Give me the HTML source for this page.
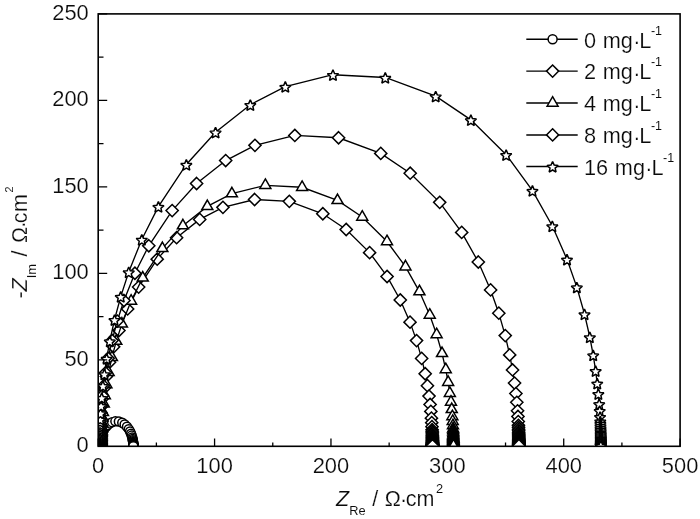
<!DOCTYPE html>
<html><head><meta charset="utf-8"><title>Nyquist plot</title>
<style>
html,body{margin:0;padding:0;background:#fff;}
svg{display:block;}
text{font-family:"Liberation Sans",sans-serif;fill:#0a0a0a;stroke:#fff;stroke-width:0.18px;}
.s{stroke-width:0.05px;}
</style></head><body>
<svg width="700" height="519" viewBox="0 0 700 519">
<rect width="700" height="519" fill="#fff"/>
<defs><clipPath id="cp"><rect x="98.20" y="13.90" width="581.90" height="432.40"/></clipPath></defs>

<g clip-path="url(#cp)" stroke="#000" stroke-linejoin="miter">
<polyline fill="none" stroke-width="1.35" points="99.71,446.30 99.71,446.29 99.71,446.29 99.71,446.29 99.71,446.29 99.71,446.29 99.71,446.29 99.71,446.29 99.71,446.29 99.71,446.29 99.71,446.29 99.71,446.29 99.71,446.29 99.71,446.28 99.71,446.28 99.71,446.28 99.71,446.28 99.71,446.28 99.71,446.27 99.71,446.27 99.71,446.27 99.71,446.26 99.71,446.26 99.71,446.26 99.71,446.25 99.71,446.25 99.71,446.24 99.71,446.23 99.71,446.23 99.71,446.22 99.71,446.21 99.71,446.20 99.71,446.20 99.71,446.19 99.71,446.17 99.71,446.16 99.71,446.15 99.71,446.14 99.71,446.12 99.71,446.10 99.71,446.08 99.71,446.05 99.71,446.03 99.71,446.00 99.71,445.97 99.71,445.93 99.72,445.89 99.72,445.85 99.72,445.81 99.72,445.76 99.72,445.70 99.72,445.64 99.72,445.58 99.72,445.51 99.72,445.43 99.73,445.35 99.73,445.26 99.73,445.16 99.73,445.04 99.74,444.94 99.74,444.82 99.75,444.66 99.76,444.49 99.78,444.08 99.81,443.59 99.86,443.05 99.94,442.24 100.03,441.45 100.19,440.41 100.40,439.24 100.71,437.81 101.13,436.25 101.67,434.61 102.54,432.42 103.66,430.21 105.53,427.39 107.49,425.22 109.83,423.38 112.17,422.16 115.37,421.37 118.88,421.55 122.26,422.81 124.63,424.40 126.99,426.73 128.76,429.14 130.09,431.52 131.08,433.76 131.73,435.62 132.25,437.42 132.61,438.97 132.83,440.18 133.00,441.23 133.10,442.07 133.18,442.77 133.24,443.45 133.27,443.91 133.29,444.31 133.31,444.62 133.32,444.78 133.32,444.92 133.33,445.06 133.33,445.18 133.33,445.29 133.34,445.38 133.34,445.46 133.34,445.54 133.34,445.62 133.34,445.69 133.34,445.74 133.34,445.79 133.34,445.84 133.34,445.88 133.34,445.92 133.35,445.95 133.35,445.99 133.35,446.01 133.35,446.04 133.35,446.06 133.35,446.08 133.35,446.10 133.35,446.12 133.35,446.13 133.35,446.15 133.35,446.16 133.35,446.18 133.35,446.19 133.35,446.20 133.35,446.21 133.35,446.22 133.35,446.22 133.35,446.23 133.35,446.24 133.35,446.24 133.35,446.25"/>
<g fill="#fff" stroke-width="1.5">
<circle cx="99.71" cy="446.30" r="4.5"/>
<circle cx="99.71" cy="446.29" r="4.5"/>
<circle cx="99.71" cy="446.29" r="4.5"/>
<circle cx="99.71" cy="446.29" r="4.5"/>
<circle cx="99.71" cy="446.29" r="4.5"/>
<circle cx="99.71" cy="446.29" r="4.5"/>
<circle cx="99.71" cy="446.29" r="4.5"/>
<circle cx="99.71" cy="446.29" r="4.5"/>
<circle cx="99.71" cy="446.29" r="4.5"/>
<circle cx="99.71" cy="446.29" r="4.5"/>
<circle cx="99.71" cy="446.29" r="4.5"/>
<circle cx="99.71" cy="446.29" r="4.5"/>
<circle cx="99.71" cy="446.29" r="4.5"/>
<circle cx="99.71" cy="446.28" r="4.5"/>
<circle cx="99.71" cy="446.28" r="4.5"/>
<circle cx="99.71" cy="446.28" r="4.5"/>
<circle cx="99.71" cy="446.28" r="4.5"/>
<circle cx="99.71" cy="446.28" r="4.5"/>
<circle cx="99.71" cy="446.27" r="4.5"/>
<circle cx="99.71" cy="446.27" r="4.5"/>
<circle cx="99.71" cy="446.27" r="4.5"/>
<circle cx="99.71" cy="446.26" r="4.5"/>
<circle cx="99.71" cy="446.26" r="4.5"/>
<circle cx="99.71" cy="446.26" r="4.5"/>
<circle cx="99.71" cy="446.25" r="4.5"/>
<circle cx="99.71" cy="446.25" r="4.5"/>
<circle cx="99.71" cy="446.24" r="4.5"/>
<circle cx="99.71" cy="446.23" r="4.5"/>
<circle cx="99.71" cy="446.23" r="4.5"/>
<circle cx="99.71" cy="446.22" r="4.5"/>
<circle cx="99.71" cy="446.21" r="4.5"/>
<circle cx="99.71" cy="446.20" r="4.5"/>
<circle cx="99.71" cy="446.20" r="4.5"/>
<circle cx="99.71" cy="446.19" r="4.5"/>
<circle cx="99.71" cy="446.17" r="4.5"/>
<circle cx="99.71" cy="446.16" r="4.5"/>
<circle cx="99.71" cy="446.15" r="4.5"/>
<circle cx="99.71" cy="446.14" r="4.5"/>
<circle cx="99.71" cy="446.12" r="4.5"/>
<circle cx="99.71" cy="446.10" r="4.5"/>
<circle cx="99.71" cy="446.08" r="4.5"/>
<circle cx="99.71" cy="446.05" r="4.5"/>
<circle cx="99.71" cy="446.03" r="4.5"/>
<circle cx="99.71" cy="446.00" r="4.5"/>
<circle cx="99.71" cy="445.97" r="4.5"/>
<circle cx="99.71" cy="445.93" r="4.5"/>
<circle cx="99.72" cy="445.89" r="4.5"/>
<circle cx="99.72" cy="445.85" r="4.5"/>
<circle cx="99.72" cy="445.81" r="4.5"/>
<circle cx="99.72" cy="445.76" r="4.5"/>
<circle cx="99.72" cy="445.70" r="4.5"/>
<circle cx="99.72" cy="445.64" r="4.5"/>
<circle cx="99.72" cy="445.58" r="4.5"/>
<circle cx="99.72" cy="445.51" r="4.5"/>
<circle cx="99.72" cy="445.43" r="4.5"/>
<circle cx="99.73" cy="445.35" r="4.5"/>
<circle cx="99.73" cy="445.26" r="4.5"/>
<circle cx="99.73" cy="445.16" r="4.5"/>
<circle cx="99.73" cy="445.04" r="4.5"/>
<circle cx="99.74" cy="444.94" r="4.5"/>
<circle cx="99.74" cy="444.82" r="4.5"/>
<circle cx="99.75" cy="444.66" r="4.5"/>
<circle cx="99.76" cy="444.49" r="4.5"/>
<circle cx="99.78" cy="444.08" r="4.5"/>
<circle cx="99.81" cy="443.59" r="4.5"/>
<circle cx="99.86" cy="443.05" r="4.5"/>
<circle cx="99.94" cy="442.24" r="4.5"/>
<circle cx="100.03" cy="441.45" r="4.5"/>
<circle cx="100.19" cy="440.41" r="4.5"/>
<circle cx="100.40" cy="439.24" r="4.5"/>
<circle cx="100.71" cy="437.81" r="4.5"/>
<circle cx="101.13" cy="436.25" r="4.5"/>
<circle cx="101.67" cy="434.61" r="4.5"/>
<circle cx="102.54" cy="432.42" r="4.5"/>
<circle cx="103.66" cy="430.21" r="4.5"/>
<circle cx="105.53" cy="427.39" r="4.5"/>
<circle cx="107.49" cy="425.22" r="4.5"/>
<circle cx="109.83" cy="423.38" r="4.5"/>
<circle cx="112.17" cy="422.16" r="4.5"/>
<circle cx="115.37" cy="421.37" r="4.5"/>
<circle cx="118.88" cy="421.55" r="4.5"/>
<circle cx="122.26" cy="422.81" r="4.5"/>
<circle cx="124.63" cy="424.40" r="4.5"/>
<circle cx="126.99" cy="426.73" r="4.5"/>
<circle cx="128.76" cy="429.14" r="4.5"/>
<circle cx="130.09" cy="431.52" r="4.5"/>
<circle cx="131.08" cy="433.76" r="4.5"/>
<circle cx="131.73" cy="435.62" r="4.5"/>
<circle cx="132.25" cy="437.42" r="4.5"/>
<circle cx="132.61" cy="438.97" r="4.5"/>
<circle cx="132.83" cy="440.18" r="4.5"/>
<circle cx="133.00" cy="441.23" r="4.5"/>
<circle cx="133.10" cy="442.07" r="4.5"/>
<circle cx="133.18" cy="442.77" r="4.5"/>
<circle cx="133.24" cy="443.45" r="4.5"/>
<circle cx="133.27" cy="443.91" r="4.5"/>
<circle cx="133.29" cy="444.31" r="4.5"/>
<circle cx="133.31" cy="444.62" r="4.5"/>
<circle cx="133.32" cy="444.78" r="4.5"/>
<circle cx="133.32" cy="444.92" r="4.5"/>
<circle cx="133.33" cy="445.06" r="4.5"/>
<circle cx="133.33" cy="445.18" r="4.5"/>
<circle cx="133.33" cy="445.29" r="4.5"/>
<circle cx="133.34" cy="445.38" r="4.5"/>
<circle cx="133.34" cy="445.46" r="4.5"/>
<circle cx="133.34" cy="445.54" r="4.5"/>
<circle cx="133.34" cy="445.62" r="4.5"/>
<circle cx="133.34" cy="445.69" r="4.5"/>
<circle cx="133.34" cy="445.74" r="4.5"/>
<circle cx="133.34" cy="445.79" r="4.5"/>
<circle cx="133.34" cy="445.84" r="4.5"/>
<circle cx="133.34" cy="445.88" r="4.5"/>
<circle cx="133.34" cy="445.92" r="4.5"/>
<circle cx="133.35" cy="445.95" r="4.5"/>
<circle cx="133.35" cy="445.99" r="4.5"/>
<circle cx="133.35" cy="446.01" r="4.5"/>
<circle cx="133.35" cy="446.04" r="4.5"/>
<circle cx="133.35" cy="446.06" r="4.5"/>
<circle cx="133.35" cy="446.08" r="4.5"/>
<circle cx="133.35" cy="446.10" r="4.5"/>
<circle cx="133.35" cy="446.12" r="4.5"/>
<circle cx="133.35" cy="446.13" r="4.5"/>
<circle cx="133.35" cy="446.15" r="4.5"/>
<circle cx="133.35" cy="446.16" r="4.5"/>
<circle cx="133.35" cy="446.18" r="4.5"/>
<circle cx="133.35" cy="446.19" r="4.5"/>
<circle cx="133.35" cy="446.20" r="4.5"/>
<circle cx="133.35" cy="446.21" r="4.5"/>
<circle cx="133.35" cy="446.22" r="4.5"/>
<circle cx="133.35" cy="446.22" r="4.5"/>
<circle cx="133.35" cy="446.23" r="4.5"/>
<circle cx="133.35" cy="446.24" r="4.5"/>
<circle cx="133.35" cy="446.24" r="4.5"/>
<circle cx="133.35" cy="446.25" r="4.5"/>
</g>
<polyline fill="none" stroke-width="1.35" points="99.60,446.25 99.60,446.25 99.60,446.24 99.60,446.24 99.60,446.23 99.60,446.22 99.60,446.21 99.60,446.21 99.60,446.20 99.60,446.19 99.60,446.18 99.60,446.16 99.60,446.15 99.60,446.14 99.60,446.12 99.60,446.10 99.60,446.08 99.60,446.06 99.60,446.03 99.60,446.00 99.60,445.98 99.60,445.94 99.60,445.90 99.60,445.86 99.60,445.81 99.60,445.76 99.60,445.71 99.60,445.65 99.60,445.59 99.60,445.51 99.60,445.43 99.60,445.35 99.60,445.27 99.60,445.17 99.60,445.06 99.60,444.95 99.60,444.83 99.60,444.68 99.60,444.50 99.60,444.31 99.60,444.10 99.60,443.86 99.61,443.61 99.61,443.35 99.61,443.07 99.61,442.68 99.62,442.26 99.62,441.87 99.63,441.45 99.64,440.94 99.64,440.39 99.65,439.81 99.67,439.17 99.68,438.44 99.70,437.64 99.72,436.85 99.74,435.98 99.77,434.98 99.81,433.87 99.84,432.79 99.89,431.61 99.96,430.07 100.03,428.36 100.26,424.30 100.58,419.43 101.01,414.10 101.80,406.15 102.77,398.26 104.29,387.98 106.38,376.42 109.50,362.26 113.63,346.87 118.94,330.55 127.63,308.92 138.65,287.09 157.21,259.14 176.60,237.68 199.70,219.43 222.94,207.37 254.59,199.51 289.32,201.35 322.81,213.75 346.19,229.49 369.61,252.64 387.08,276.47 400.27,300.00 410.02,322.15 416.54,340.60 421.65,358.43 425.18,373.72 427.43,385.69 429.04,396.12 430.10,404.45 430.84,411.40 431.42,418.13 431.74,422.64 431.98,426.65 432.12,429.67 432.19,431.25 432.25,432.68 432.30,434.01 432.33,435.20 432.36,436.26 432.39,437.22 432.41,438.01 432.42,438.73 432.44,439.53 432.45,440.25 432.46,440.77 432.47,441.25 432.47,441.73 432.48,442.16 432.48,442.53 432.49,442.87 432.49,443.19 432.49,443.47 432.49,443.71 432.49,443.93 432.50,444.14 432.50,444.33 432.50,444.49 432.50,444.63 432.50,444.79 432.50,444.94 432.50,445.07 432.50,445.19 432.50,445.30 432.50,445.39 432.50,445.47 432.50,445.54 432.50,445.62 432.50,445.69 432.50,445.75 432.50,445.80"/>
<g fill="#fff" stroke-width="1.5">
<path d="M99.60 440.15L105.70 446.25L99.60 452.35L93.50 446.25Z"/>
<path d="M99.60 440.15L105.70 446.25L99.60 452.35L93.50 446.25Z"/>
<path d="M99.60 440.14L105.70 446.24L99.60 452.34L93.50 446.24Z"/>
<path d="M99.60 440.14L105.70 446.24L99.60 452.34L93.50 446.24Z"/>
<path d="M99.60 440.13L105.70 446.23L99.60 452.33L93.50 446.23Z"/>
<path d="M99.60 440.12L105.70 446.22L99.60 452.32L93.50 446.22Z"/>
<path d="M99.60 440.11L105.70 446.21L99.60 452.31L93.50 446.21Z"/>
<path d="M99.60 440.11L105.70 446.21L99.60 452.31L93.50 446.21Z"/>
<path d="M99.60 440.10L105.70 446.20L99.60 452.30L93.50 446.20Z"/>
<path d="M99.60 440.09L105.70 446.19L99.60 452.29L93.50 446.19Z"/>
<path d="M99.60 440.08L105.70 446.18L99.60 452.28L93.50 446.18Z"/>
<path d="M99.60 440.06L105.70 446.16L99.60 452.26L93.50 446.16Z"/>
<path d="M99.60 440.05L105.70 446.15L99.60 452.25L93.50 446.15Z"/>
<path d="M99.60 440.04L105.70 446.14L99.60 452.24L93.50 446.14Z"/>
<path d="M99.60 440.02L105.70 446.12L99.60 452.22L93.50 446.12Z"/>
<path d="M99.60 440.00L105.70 446.10L99.60 452.20L93.50 446.10Z"/>
<path d="M99.60 439.98L105.70 446.08L99.60 452.18L93.50 446.08Z"/>
<path d="M99.60 439.96L105.70 446.06L99.60 452.16L93.50 446.06Z"/>
<path d="M99.60 439.93L105.70 446.03L99.60 452.13L93.50 446.03Z"/>
<path d="M99.60 439.90L105.70 446.00L99.60 452.10L93.50 446.00Z"/>
<path d="M99.60 439.88L105.70 445.98L99.60 452.08L93.50 445.98Z"/>
<path d="M99.60 439.84L105.70 445.94L99.60 452.04L93.50 445.94Z"/>
<path d="M99.60 439.80L105.70 445.90L99.60 452.00L93.50 445.90Z"/>
<path d="M99.60 439.76L105.70 445.86L99.60 451.96L93.50 445.86Z"/>
<path d="M99.60 439.71L105.70 445.81L99.60 451.91L93.50 445.81Z"/>
<path d="M99.60 439.66L105.70 445.76L99.60 451.86L93.50 445.76Z"/>
<path d="M99.60 439.61L105.70 445.71L99.60 451.81L93.50 445.71Z"/>
<path d="M99.60 439.55L105.70 445.65L99.60 451.75L93.50 445.65Z"/>
<path d="M99.60 439.49L105.70 445.59L99.60 451.69L93.50 445.59Z"/>
<path d="M99.60 439.41L105.70 445.51L99.60 451.61L93.50 445.51Z"/>
<path d="M99.60 439.33L105.70 445.43L99.60 451.53L93.50 445.43Z"/>
<path d="M99.60 439.25L105.70 445.35L99.60 451.45L93.50 445.35Z"/>
<path d="M99.60 439.17L105.70 445.27L99.60 451.37L93.50 445.27Z"/>
<path d="M99.60 439.07L105.70 445.17L99.60 451.27L93.50 445.17Z"/>
<path d="M99.60 438.96L105.70 445.06L99.60 451.16L93.50 445.06Z"/>
<path d="M99.60 438.85L105.70 444.95L99.60 451.05L93.50 444.95Z"/>
<path d="M99.60 438.73L105.70 444.83L99.60 450.93L93.50 444.83Z"/>
<path d="M99.60 438.58L105.70 444.68L99.60 450.78L93.50 444.68Z"/>
<path d="M99.60 438.40L105.70 444.50L99.60 450.60L93.50 444.50Z"/>
<path d="M99.60 438.21L105.70 444.31L99.60 450.41L93.50 444.31Z"/>
<path d="M99.60 438.00L105.70 444.10L99.60 450.20L93.50 444.10Z"/>
<path d="M99.60 437.76L105.70 443.86L99.60 449.96L93.50 443.86Z"/>
<path d="M99.61 437.51L105.71 443.61L99.61 449.71L93.51 443.61Z"/>
<path d="M99.61 437.25L105.71 443.35L99.61 449.45L93.51 443.35Z"/>
<path d="M99.61 436.97L105.71 443.07L99.61 449.17L93.51 443.07Z"/>
<path d="M99.61 436.58L105.71 442.68L99.61 448.78L93.51 442.68Z"/>
<path d="M99.62 436.16L105.72 442.26L99.62 448.36L93.52 442.26Z"/>
<path d="M99.62 435.77L105.72 441.87L99.62 447.97L93.52 441.87Z"/>
<path d="M99.63 435.35L105.73 441.45L99.63 447.55L93.53 441.45Z"/>
<path d="M99.64 434.84L105.74 440.94L99.64 447.04L93.54 440.94Z"/>
<path d="M99.64 434.29L105.74 440.39L99.64 446.49L93.54 440.39Z"/>
<path d="M99.65 433.71L105.75 439.81L99.65 445.91L93.55 439.81Z"/>
<path d="M99.67 433.07L105.77 439.17L99.67 445.27L93.57 439.17Z"/>
<path d="M99.68 432.34L105.78 438.44L99.68 444.54L93.58 438.44Z"/>
<path d="M99.70 431.54L105.80 437.64L99.70 443.74L93.60 437.64Z"/>
<path d="M99.72 430.75L105.82 436.85L99.72 442.95L93.62 436.85Z"/>
<path d="M99.74 429.88L105.84 435.98L99.74 442.08L93.64 435.98Z"/>
<path d="M99.77 428.88L105.87 434.98L99.77 441.08L93.67 434.98Z"/>
<path d="M99.81 427.77L105.91 433.87L99.81 439.97L93.71 433.87Z"/>
<path d="M99.84 426.69L105.94 432.79L99.84 438.89L93.74 432.79Z"/>
<path d="M99.89 425.51L105.99 431.61L99.89 437.71L93.79 431.61Z"/>
<path d="M99.96 423.97L106.06 430.07L99.96 436.17L93.86 430.07Z"/>
<path d="M100.03 422.26L106.13 428.36L100.03 434.46L93.93 428.36Z"/>
<path d="M100.26 418.20L106.36 424.30L100.26 430.40L94.16 424.30Z"/>
<path d="M100.58 413.33L106.68 419.43L100.58 425.53L94.48 419.43Z"/>
<path d="M101.01 408.00L107.11 414.10L101.01 420.20L94.91 414.10Z"/>
<path d="M101.80 400.05L107.90 406.15L101.80 412.25L95.70 406.15Z"/>
<path d="M102.77 392.16L108.87 398.26L102.77 404.36L96.67 398.26Z"/>
<path d="M104.29 381.88L110.39 387.98L104.29 394.08L98.19 387.98Z"/>
<path d="M106.38 370.32L112.48 376.42L106.38 382.52L100.28 376.42Z"/>
<path d="M109.50 356.16L115.60 362.26L109.50 368.36L103.40 362.26Z"/>
<path d="M113.63 340.77L119.73 346.87L113.63 352.97L107.53 346.87Z"/>
<path d="M118.94 324.45L125.04 330.55L118.94 336.65L112.84 330.55Z"/>
<path d="M127.63 302.82L133.73 308.92L127.63 315.02L121.53 308.92Z"/>
<path d="M138.65 280.99L144.75 287.09L138.65 293.19L132.55 287.09Z"/>
<path d="M157.21 253.04L163.31 259.14L157.21 265.24L151.11 259.14Z"/>
<path d="M176.60 231.58L182.70 237.68L176.60 243.78L170.50 237.68Z"/>
<path d="M199.70 213.33L205.80 219.43L199.70 225.53L193.60 219.43Z"/>
<path d="M222.94 201.27L229.04 207.37L222.94 213.47L216.84 207.37Z"/>
<path d="M254.59 193.41L260.69 199.51L254.59 205.61L248.49 199.51Z"/>
<path d="M289.32 195.25L295.42 201.35L289.32 207.45L283.22 201.35Z"/>
<path d="M322.81 207.65L328.91 213.75L322.81 219.85L316.71 213.75Z"/>
<path d="M346.19 223.39L352.29 229.49L346.19 235.59L340.09 229.49Z"/>
<path d="M369.61 246.54L375.71 252.64L369.61 258.74L363.51 252.64Z"/>
<path d="M387.08 270.37L393.18 276.47L387.08 282.57L380.98 276.47Z"/>
<path d="M400.27 293.90L406.37 300.00L400.27 306.10L394.17 300.00Z"/>
<path d="M410.02 316.05L416.12 322.15L410.02 328.25L403.92 322.15Z"/>
<path d="M416.54 334.50L422.64 340.60L416.54 346.70L410.44 340.60Z"/>
<path d="M421.65 352.33L427.75 358.43L421.65 364.53L415.55 358.43Z"/>
<path d="M425.18 367.62L431.28 373.72L425.18 379.82L419.08 373.72Z"/>
<path d="M427.43 379.59L433.53 385.69L427.43 391.79L421.33 385.69Z"/>
<path d="M429.04 390.02L435.14 396.12L429.04 402.22L422.94 396.12Z"/>
<path d="M430.10 398.35L436.20 404.45L430.10 410.55L424.00 404.45Z"/>
<path d="M430.84 405.30L436.94 411.40L430.84 417.50L424.74 411.40Z"/>
<path d="M431.42 412.03L437.52 418.13L431.42 424.23L425.32 418.13Z"/>
<path d="M431.74 416.54L437.84 422.64L431.74 428.74L425.64 422.64Z"/>
<path d="M431.98 420.55L438.08 426.65L431.98 432.75L425.88 426.65Z"/>
<path d="M432.12 423.57L438.22 429.67L432.12 435.77L426.02 429.67Z"/>
<path d="M432.19 425.15L438.29 431.25L432.19 437.35L426.09 431.25Z"/>
<path d="M432.25 426.58L438.35 432.68L432.25 438.78L426.15 432.68Z"/>
<path d="M432.30 427.91L438.40 434.01L432.30 440.11L426.20 434.01Z"/>
<path d="M432.33 429.10L438.43 435.20L432.33 441.30L426.23 435.20Z"/>
<path d="M432.36 430.16L438.46 436.26L432.36 442.36L426.26 436.26Z"/>
<path d="M432.39 431.12L438.49 437.22L432.39 443.32L426.29 437.22Z"/>
<path d="M432.41 431.91L438.51 438.01L432.41 444.11L426.31 438.01Z"/>
<path d="M432.42 432.63L438.52 438.73L432.42 444.83L426.32 438.73Z"/>
<path d="M432.44 433.43L438.54 439.53L432.44 445.63L426.34 439.53Z"/>
<path d="M432.45 434.15L438.55 440.25L432.45 446.35L426.35 440.25Z"/>
<path d="M432.46 434.67L438.56 440.77L432.46 446.87L426.36 440.77Z"/>
<path d="M432.47 435.15L438.57 441.25L432.47 447.35L426.37 441.25Z"/>
<path d="M432.47 435.63L438.57 441.73L432.47 447.83L426.37 441.73Z"/>
<path d="M432.48 436.06L438.58 442.16L432.48 448.26L426.38 442.16Z"/>
<path d="M432.48 436.43L438.58 442.53L432.48 448.63L426.38 442.53Z"/>
<path d="M432.49 436.77L438.59 442.87L432.49 448.97L426.39 442.87Z"/>
<path d="M432.49 437.09L438.59 443.19L432.49 449.29L426.39 443.19Z"/>
<path d="M432.49 437.37L438.59 443.47L432.49 449.57L426.39 443.47Z"/>
<path d="M432.49 437.61L438.59 443.71L432.49 449.81L426.39 443.71Z"/>
<path d="M432.49 437.83L438.59 443.93L432.49 450.03L426.39 443.93Z"/>
<path d="M432.50 438.04L438.60 444.14L432.50 450.24L426.40 444.14Z"/>
<path d="M432.50 438.23L438.60 444.33L432.50 450.43L426.40 444.33Z"/>
<path d="M432.50 438.39L438.60 444.49L432.50 450.59L426.40 444.49Z"/>
<path d="M432.50 438.53L438.60 444.63L432.50 450.73L426.40 444.63Z"/>
<path d="M432.50 438.69L438.60 444.79L432.50 450.89L426.40 444.79Z"/>
<path d="M432.50 438.84L438.60 444.94L432.50 451.04L426.40 444.94Z"/>
<path d="M432.50 438.97L438.60 445.07L432.50 451.17L426.40 445.07Z"/>
<path d="M432.50 439.09L438.60 445.19L432.50 451.29L426.40 445.19Z"/>
<path d="M432.50 439.20L438.60 445.30L432.50 451.40L426.40 445.30Z"/>
<path d="M432.50 439.29L438.60 445.39L432.50 451.49L426.40 445.39Z"/>
<path d="M432.50 439.37L438.60 445.47L432.50 451.57L426.40 445.47Z"/>
<path d="M432.50 439.44L438.60 445.54L432.50 451.64L426.40 445.54Z"/>
<path d="M432.50 439.52L438.60 445.62L432.50 451.72L426.40 445.62Z"/>
<path d="M432.50 439.59L438.60 445.69L432.50 451.79L426.40 445.69Z"/>
<path d="M432.50 439.65L438.60 445.75L432.50 451.85L426.40 445.75Z"/>
<path d="M432.50 439.70L438.60 445.80L432.50 451.90L426.40 445.80Z"/>
</g>
<polyline fill="none" stroke-width="1.35" points="101.46,446.25 101.46,446.24 101.46,446.24 101.46,446.23 101.46,446.22 101.46,446.22 101.46,446.21 101.46,446.20 101.46,446.19 101.46,446.18 101.46,446.17 101.46,446.16 101.46,446.14 101.46,446.13 101.46,446.11 101.46,446.09 101.46,446.07 101.46,446.04 101.46,446.02 101.46,445.99 101.46,445.96 101.46,445.92 101.46,445.87 101.46,445.83 101.46,445.79 101.46,445.73 101.46,445.67 101.46,445.61 101.46,445.55 101.46,445.47 101.46,445.38 101.46,445.30 101.46,445.21 101.46,445.10 101.46,444.98 101.46,444.87 101.46,444.75 101.46,444.58 101.46,444.40 101.46,444.20 101.47,443.97 101.47,443.72 101.47,443.45 101.47,443.18 101.47,442.88 101.48,442.48 101.48,442.03 101.49,441.62 101.49,441.17 101.50,440.64 101.51,440.05 101.52,439.43 101.53,438.76 101.55,437.99 101.57,437.14 101.59,436.31 101.61,435.39 101.64,434.33 101.68,433.16 101.72,432.01 101.77,430.77 101.84,429.13 101.92,427.33 102.16,423.03 102.50,417.89 102.96,412.25 103.79,403.84 104.81,395.49 106.42,384.63 108.63,372.40 111.93,357.43 116.30,341.15 121.92,323.90 131.10,301.01 142.76,277.94 162.38,248.38 182.89,225.68 207.32,206.38 231.89,193.63 265.36,185.32 302.10,187.27 337.51,200.38 362.24,217.02 387.00,241.50 405.47,266.70 419.43,291.59 429.74,315.01 436.63,334.52 442.03,353.37 445.76,369.55 448.14,382.21 449.85,393.23 450.97,402.04 451.75,409.39 452.36,416.51 452.70,421.28 452.95,425.52 453.11,428.71 453.18,430.38 453.24,431.90 453.29,433.30 453.33,434.57 453.36,435.68 453.39,436.70 453.41,437.53 453.43,438.30 453.44,439.14 453.46,439.90 453.46,440.45 453.47,440.96 453.48,441.47 453.48,441.92 453.49,442.32 453.49,442.67 453.49,443.01 453.50,443.31 453.50,443.56 453.50,443.79 453.50,444.02 453.50,444.22 453.50,444.39 453.50,444.54 453.50,444.71 453.51,444.86 453.51,445.00 453.51,445.13 453.51,445.24 453.51,445.34 453.51,445.42 453.51,445.50 453.51,445.58 453.51,445.66 453.51,445.72 453.51,445.77"/>
<g fill="#fff" stroke-width="1.5">
<path d="M101.46 439.90L106.96 449.42L95.96 449.42Z"/>
<path d="M101.46 439.89L106.96 449.42L95.96 449.42Z"/>
<path d="M101.46 439.89L106.96 449.41L95.96 449.41Z"/>
<path d="M101.46 439.88L106.96 449.41L95.96 449.41Z"/>
<path d="M101.46 439.87L106.96 449.40L95.96 449.40Z"/>
<path d="M101.46 439.87L106.96 449.39L95.96 449.39Z"/>
<path d="M101.46 439.86L106.96 449.38L95.96 449.38Z"/>
<path d="M101.46 439.85L106.96 449.38L95.96 449.38Z"/>
<path d="M101.46 439.84L106.96 449.37L95.96 449.37Z"/>
<path d="M101.46 439.83L106.96 449.36L95.96 449.36Z"/>
<path d="M101.46 439.82L106.96 449.34L95.96 449.34Z"/>
<path d="M101.46 439.81L106.96 449.33L95.96 449.33Z"/>
<path d="M101.46 439.79L106.96 449.32L95.96 449.32Z"/>
<path d="M101.46 439.78L106.96 449.30L95.96 449.30Z"/>
<path d="M101.46 439.76L106.96 449.29L95.96 449.29Z"/>
<path d="M101.46 439.74L106.96 449.26L95.96 449.26Z"/>
<path d="M101.46 439.72L106.96 449.24L95.96 449.24Z"/>
<path d="M101.46 439.69L106.96 449.22L95.96 449.22Z"/>
<path d="M101.46 439.66L106.96 449.19L95.96 449.19Z"/>
<path d="M101.46 439.64L106.96 449.16L95.96 449.16Z"/>
<path d="M101.46 439.61L106.96 449.13L95.96 449.13Z"/>
<path d="M101.46 439.57L106.96 449.09L95.96 449.09Z"/>
<path d="M101.46 439.52L106.96 449.05L95.96 449.05Z"/>
<path d="M101.46 439.48L106.96 449.01L95.96 449.01Z"/>
<path d="M101.46 439.44L106.96 448.96L95.96 448.96Z"/>
<path d="M101.46 439.38L106.96 448.91L95.96 448.91Z"/>
<path d="M101.46 439.32L106.96 448.85L95.96 448.85Z"/>
<path d="M101.46 439.26L106.96 448.79L95.96 448.79Z"/>
<path d="M101.46 439.19L106.96 448.72L95.96 448.72Z"/>
<path d="M101.46 439.12L106.96 448.64L95.96 448.64Z"/>
<path d="M101.46 439.03L106.96 448.56L95.96 448.56Z"/>
<path d="M101.46 438.95L106.96 448.48L95.96 448.48Z"/>
<path d="M101.46 438.86L106.96 448.38L95.96 448.38Z"/>
<path d="M101.46 438.75L106.96 448.28L95.96 448.28Z"/>
<path d="M101.46 438.63L106.96 448.16L95.96 448.16Z"/>
<path d="M101.46 438.52L106.96 448.05L95.96 448.05Z"/>
<path d="M101.46 438.39L106.96 447.92L95.96 447.92Z"/>
<path d="M101.46 438.23L106.96 447.76L95.96 447.76Z"/>
<path d="M101.46 438.05L106.96 447.58L95.96 447.58Z"/>
<path d="M101.46 437.84L106.96 447.37L95.96 447.37Z"/>
<path d="M101.47 437.62L106.97 447.14L95.97 447.14Z"/>
<path d="M101.47 437.37L106.97 446.90L95.97 446.90Z"/>
<path d="M101.47 437.10L106.97 446.63L95.97 446.63Z"/>
<path d="M101.47 436.83L106.97 446.35L95.97 446.35Z"/>
<path d="M101.47 436.53L106.97 446.06L95.97 446.06Z"/>
<path d="M101.48 436.13L106.98 445.65L95.98 445.65Z"/>
<path d="M101.48 435.67L106.98 445.20L95.98 445.20Z"/>
<path d="M101.49 435.27L106.99 444.79L95.99 444.79Z"/>
<path d="M101.49 434.82L106.99 444.35L95.99 444.35Z"/>
<path d="M101.50 434.29L107.00 443.81L96.00 443.81Z"/>
<path d="M101.51 433.69L107.01 443.22L96.01 443.22Z"/>
<path d="M101.52 433.08L107.02 442.61L96.02 442.61Z"/>
<path d="M101.53 432.41L107.03 441.93L96.03 441.93Z"/>
<path d="M101.55 431.64L107.05 441.17L96.05 441.17Z"/>
<path d="M101.57 430.79L107.07 440.32L96.07 440.32Z"/>
<path d="M101.59 429.95L107.09 439.48L96.09 439.48Z"/>
<path d="M101.61 429.04L107.11 438.57L96.11 438.57Z"/>
<path d="M101.64 427.97L107.14 437.50L96.14 437.50Z"/>
<path d="M101.68 426.81L107.18 436.33L96.18 436.33Z"/>
<path d="M101.72 425.66L107.22 435.19L96.22 435.19Z"/>
<path d="M101.77 424.42L107.27 433.95L96.27 433.95Z"/>
<path d="M101.84 422.78L107.34 432.31L96.34 432.31Z"/>
<path d="M101.92 420.98L107.42 430.50L96.42 430.50Z"/>
<path d="M102.16 416.68L107.66 426.21L96.66 426.21Z"/>
<path d="M102.50 411.54L108.00 421.06L97.00 421.06Z"/>
<path d="M102.96 405.90L108.46 415.42L97.46 415.42Z"/>
<path d="M103.79 397.49L109.29 407.01L98.29 407.01Z"/>
<path d="M104.81 389.14L110.31 398.67L99.31 398.67Z"/>
<path d="M106.42 378.28L111.92 387.80L100.92 387.80Z"/>
<path d="M108.63 366.05L114.13 375.58L103.13 375.58Z"/>
<path d="M111.93 351.08L117.43 360.60L106.43 360.60Z"/>
<path d="M116.30 334.80L121.80 344.33L110.80 344.33Z"/>
<path d="M121.92 317.54L127.42 327.07L116.42 327.07Z"/>
<path d="M131.10 294.66L136.60 304.19L125.60 304.19Z"/>
<path d="M142.76 271.58L148.26 281.11L137.26 281.11Z"/>
<path d="M162.38 242.02L167.88 251.55L156.88 251.55Z"/>
<path d="M182.89 219.33L188.39 228.86L177.39 228.86Z"/>
<path d="M207.32 200.03L212.82 209.55L201.82 209.55Z"/>
<path d="M231.89 187.27L237.39 196.80L226.39 196.80Z"/>
<path d="M265.36 178.97L270.86 188.49L259.86 188.49Z"/>
<path d="M302.10 180.92L307.60 190.44L296.60 190.44Z"/>
<path d="M337.51 194.03L343.01 203.55L332.01 203.55Z"/>
<path d="M362.24 210.67L367.74 220.19L356.74 220.19Z"/>
<path d="M387.00 235.15L392.50 244.68L381.50 244.68Z"/>
<path d="M405.47 260.35L410.97 269.88L399.97 269.88Z"/>
<path d="M419.43 285.24L424.93 294.76L413.93 294.76Z"/>
<path d="M429.74 308.66L435.24 318.19L424.24 318.19Z"/>
<path d="M436.63 328.17L442.13 337.70L431.13 337.70Z"/>
<path d="M442.03 347.02L447.53 356.55L436.53 356.55Z"/>
<path d="M445.76 363.20L451.26 372.72L440.26 372.72Z"/>
<path d="M448.14 375.85L453.64 385.38L442.64 385.38Z"/>
<path d="M449.85 386.88L455.35 396.40L444.35 396.40Z"/>
<path d="M450.97 395.69L456.47 405.22L445.47 405.22Z"/>
<path d="M451.75 403.04L457.25 412.57L446.25 412.57Z"/>
<path d="M452.36 410.16L457.86 419.69L446.86 419.69Z"/>
<path d="M452.70 414.92L458.20 424.45L447.20 424.45Z"/>
<path d="M452.95 419.17L458.45 428.70L447.45 428.70Z"/>
<path d="M453.11 422.36L458.61 431.88L447.61 431.88Z"/>
<path d="M453.18 424.03L458.68 433.56L447.68 433.56Z"/>
<path d="M453.24 425.55L458.74 435.08L447.74 435.08Z"/>
<path d="M453.29 426.95L458.79 436.48L447.79 436.48Z"/>
<path d="M453.33 428.21L458.83 437.74L447.83 437.74Z"/>
<path d="M453.36 429.33L458.86 438.86L447.86 438.86Z"/>
<path d="M453.39 430.35L458.89 439.87L447.89 439.87Z"/>
<path d="M453.41 431.18L458.91 440.71L447.91 440.71Z"/>
<path d="M453.43 431.95L458.93 441.47L447.93 441.47Z"/>
<path d="M453.44 432.79L458.94 442.32L447.94 442.32Z"/>
<path d="M453.46 433.55L458.96 443.07L447.96 443.07Z"/>
<path d="M453.46 434.10L458.96 443.63L447.96 443.63Z"/>
<path d="M453.47 434.61L458.97 444.14L447.97 444.14Z"/>
<path d="M453.48 435.12L458.98 444.64L447.98 444.64Z"/>
<path d="M453.48 435.57L458.98 445.10L447.98 445.10Z"/>
<path d="M453.49 435.96L458.99 445.49L447.99 445.49Z"/>
<path d="M453.49 436.32L458.99 445.85L447.99 445.85Z"/>
<path d="M453.49 436.66L458.99 446.18L447.99 446.18Z"/>
<path d="M453.50 436.96L459.00 446.49L448.00 446.49Z"/>
<path d="M453.50 437.21L459.00 446.74L448.00 446.74Z"/>
<path d="M453.50 437.44L459.00 446.97L448.00 446.97Z"/>
<path d="M453.50 437.66L459.00 447.19L448.00 447.19Z"/>
<path d="M453.50 437.87L459.00 447.39L448.00 447.39Z"/>
<path d="M453.50 438.03L459.00 447.56L448.00 447.56Z"/>
<path d="M453.50 438.19L459.00 447.71L448.00 447.71Z"/>
<path d="M453.50 438.36L459.00 447.88L448.00 447.88Z"/>
<path d="M453.51 438.51L459.01 448.03L448.01 448.03Z"/>
<path d="M453.51 438.65L459.01 448.17L448.01 448.17Z"/>
<path d="M453.51 438.78L459.01 448.30L448.01 448.30Z"/>
<path d="M453.51 438.89L459.01 448.41L448.01 448.41Z"/>
<path d="M453.51 438.99L459.01 448.51L448.01 448.51Z"/>
<path d="M453.51 439.07L459.01 448.60L448.01 448.60Z"/>
<path d="M453.51 439.15L459.01 448.67L448.01 448.67Z"/>
<path d="M453.51 439.23L459.01 448.76L448.01 448.76Z"/>
<path d="M453.51 439.31L459.01 448.84L448.01 448.84Z"/>
<path d="M453.51 439.36L459.01 448.89L448.01 448.89Z"/>
<path d="M453.51 439.42L459.01 448.94L448.01 448.94Z"/>
</g>
<polyline fill="none" stroke-width="1.35" points="99.60,446.24 99.60,446.23 99.60,446.23 99.60,446.22 99.60,446.21 99.60,446.20 99.60,446.19 99.60,446.18 99.60,446.17 99.60,446.16 99.60,446.14 99.60,446.13 99.60,446.11 99.60,446.10 99.60,446.07 99.60,446.05 99.60,446.02 99.60,445.99 99.60,445.96 99.60,445.93 99.60,445.89 99.60,445.84 99.60,445.79 99.60,445.74 99.60,445.69 99.60,445.63 99.60,445.55 99.60,445.48 99.60,445.40 99.60,445.31 99.60,445.21 99.60,445.11 99.60,445.00 99.60,444.87 99.60,444.73 99.60,444.60 99.60,444.45 99.60,444.25 99.60,444.04 99.60,443.79 99.60,443.52 99.61,443.23 99.61,442.91 99.61,442.58 99.61,442.23 99.62,441.75 99.62,441.21 99.63,440.72 99.64,440.19 99.65,439.55 99.66,438.85 99.67,438.12 99.68,437.32 99.70,436.40 99.73,435.39 99.75,434.40 99.78,433.31 99.82,432.04 99.86,430.64 99.91,429.28 99.97,427.80 100.05,425.85 100.15,423.70 100.43,418.58 100.84,412.46 101.38,405.74 102.38,395.72 103.59,385.79 105.51,372.84 108.14,358.28 112.07,340.45 117.28,321.06 123.96,300.51 134.90,273.25 148.79,245.77 172.16,210.56 196.59,183.53 225.68,160.54 254.95,145.35 294.82,135.45 338.57,137.77 380.75,153.39 410.20,173.21 439.70,202.37 461.70,232.39 478.32,262.03 490.60,289.93 498.81,313.16 505.24,335.62 509.69,354.88 512.52,369.96 514.55,383.09 515.89,393.59 516.82,402.34 517.55,410.82 517.95,416.49 518.25,421.55 518.44,425.35 518.53,427.34 518.60,429.15 518.65,430.82 518.70,432.32 518.74,433.66 518.77,434.86 518.80,435.86 518.82,436.77 518.84,437.77 518.85,438.67 518.86,439.34 518.87,439.94 518.88,440.54 518.88,441.09 518.89,441.55 518.89,441.98 518.90,442.38 518.90,442.74 518.90,443.04 518.90,443.31 518.91,443.58 518.91,443.82 518.91,444.02 518.91,444.20 518.91,444.40 518.91,444.58 518.91,444.75 518.91,444.90 518.91,445.04 518.91,445.16 518.91,445.26 518.91,445.35 518.91,445.45 518.91,445.54 518.91,445.60 518.91,445.66"/>
<g fill="#fff" stroke-width="1.5">
<path d="M99.60 440.14L105.70 446.24L99.60 452.34L93.50 446.24Z"/>
<path d="M99.60 440.13L105.70 446.23L99.60 452.33L93.50 446.23Z"/>
<path d="M99.60 440.13L105.70 446.23L99.60 452.33L93.50 446.23Z"/>
<path d="M99.60 440.12L105.70 446.22L99.60 452.32L93.50 446.22Z"/>
<path d="M99.60 440.11L105.70 446.21L99.60 452.31L93.50 446.21Z"/>
<path d="M99.60 440.10L105.70 446.20L99.60 452.30L93.50 446.20Z"/>
<path d="M99.60 440.09L105.70 446.19L99.60 452.29L93.50 446.19Z"/>
<path d="M99.60 440.08L105.70 446.18L99.60 452.28L93.50 446.18Z"/>
<path d="M99.60 440.07L105.70 446.17L99.60 452.27L93.50 446.17Z"/>
<path d="M99.60 440.06L105.70 446.16L99.60 452.26L93.50 446.16Z"/>
<path d="M99.60 440.04L105.70 446.14L99.60 452.24L93.50 446.14Z"/>
<path d="M99.60 440.03L105.70 446.13L99.60 452.23L93.50 446.13Z"/>
<path d="M99.60 440.01L105.70 446.11L99.60 452.21L93.50 446.11Z"/>
<path d="M99.60 440.00L105.70 446.10L99.60 452.20L93.50 446.10Z"/>
<path d="M99.60 439.97L105.70 446.07L99.60 452.17L93.50 446.07Z"/>
<path d="M99.60 439.95L105.70 446.05L99.60 452.15L93.50 446.05Z"/>
<path d="M99.60 439.92L105.70 446.02L99.60 452.12L93.50 446.02Z"/>
<path d="M99.60 439.89L105.70 445.99L99.60 452.09L93.50 445.99Z"/>
<path d="M99.60 439.86L105.70 445.96L99.60 452.06L93.50 445.96Z"/>
<path d="M99.60 439.83L105.70 445.93L99.60 452.03L93.50 445.93Z"/>
<path d="M99.60 439.79L105.70 445.89L99.60 451.99L93.50 445.89Z"/>
<path d="M99.60 439.74L105.70 445.84L99.60 451.94L93.50 445.84Z"/>
<path d="M99.60 439.69L105.70 445.79L99.60 451.89L93.50 445.79Z"/>
<path d="M99.60 439.64L105.70 445.74L99.60 451.84L93.50 445.74Z"/>
<path d="M99.60 439.59L105.70 445.69L99.60 451.79L93.50 445.69Z"/>
<path d="M99.60 439.53L105.70 445.63L99.60 451.73L93.50 445.63Z"/>
<path d="M99.60 439.45L105.70 445.55L99.60 451.65L93.50 445.55Z"/>
<path d="M99.60 439.38L105.70 445.48L99.60 451.58L93.50 445.48Z"/>
<path d="M99.60 439.30L105.70 445.40L99.60 451.50L93.50 445.40Z"/>
<path d="M99.60 439.21L105.70 445.31L99.60 451.41L93.50 445.31Z"/>
<path d="M99.60 439.11L105.70 445.21L99.60 451.31L93.50 445.21Z"/>
<path d="M99.60 439.01L105.70 445.11L99.60 451.21L93.50 445.11Z"/>
<path d="M99.60 438.90L105.70 445.00L99.60 451.10L93.50 445.00Z"/>
<path d="M99.60 438.77L105.70 444.87L99.60 450.97L93.50 444.87Z"/>
<path d="M99.60 438.63L105.70 444.73L99.60 450.83L93.50 444.73Z"/>
<path d="M99.60 438.50L105.70 444.60L99.60 450.70L93.50 444.60Z"/>
<path d="M99.60 438.35L105.70 444.45L99.60 450.55L93.50 444.45Z"/>
<path d="M99.60 438.15L105.70 444.25L99.60 450.35L93.50 444.25Z"/>
<path d="M99.60 437.94L105.70 444.04L99.60 450.14L93.50 444.04Z"/>
<path d="M99.60 437.69L105.70 443.79L99.60 449.89L93.50 443.79Z"/>
<path d="M99.60 437.42L105.70 443.52L99.60 449.62L93.50 443.52Z"/>
<path d="M99.61 437.13L105.71 443.23L99.61 449.33L93.51 443.23Z"/>
<path d="M99.61 436.81L105.71 442.91L99.61 449.01L93.51 442.91Z"/>
<path d="M99.61 436.48L105.71 442.58L99.61 448.68L93.51 442.58Z"/>
<path d="M99.61 436.13L105.71 442.23L99.61 448.33L93.51 442.23Z"/>
<path d="M99.62 435.65L105.72 441.75L99.62 447.85L93.52 441.75Z"/>
<path d="M99.62 435.11L105.72 441.21L99.62 447.31L93.52 441.21Z"/>
<path d="M99.63 434.62L105.73 440.72L99.63 446.82L93.53 440.72Z"/>
<path d="M99.64 434.09L105.74 440.19L99.64 446.29L93.54 440.19Z"/>
<path d="M99.65 433.45L105.75 439.55L99.65 445.65L93.55 439.55Z"/>
<path d="M99.66 432.75L105.76 438.85L99.66 444.95L93.56 438.85Z"/>
<path d="M99.67 432.02L105.77 438.12L99.67 444.22L93.57 438.12Z"/>
<path d="M99.68 431.22L105.78 437.32L99.68 443.42L93.58 437.32Z"/>
<path d="M99.70 430.30L105.80 436.40L99.70 442.50L93.60 436.40Z"/>
<path d="M99.73 429.29L105.83 435.39L99.73 441.49L93.63 435.39Z"/>
<path d="M99.75 428.30L105.85 434.40L99.75 440.50L93.65 434.40Z"/>
<path d="M99.78 427.21L105.88 433.31L99.78 439.41L93.68 433.31Z"/>
<path d="M99.82 425.94L105.92 432.04L99.82 438.14L93.72 432.04Z"/>
<path d="M99.86 424.54L105.96 430.64L99.86 436.74L93.76 430.64Z"/>
<path d="M99.91 423.18L106.01 429.28L99.91 435.38L93.81 429.28Z"/>
<path d="M99.97 421.70L106.07 427.80L99.97 433.90L93.87 427.80Z"/>
<path d="M100.05 419.75L106.15 425.85L100.05 431.95L93.95 425.85Z"/>
<path d="M100.15 417.60L106.25 423.70L100.15 429.80L94.05 423.70Z"/>
<path d="M100.43 412.48L106.53 418.58L100.43 424.68L94.33 418.58Z"/>
<path d="M100.84 406.36L106.94 412.46L100.84 418.56L94.74 412.46Z"/>
<path d="M101.38 399.64L107.48 405.74L101.38 411.84L95.28 405.74Z"/>
<path d="M102.38 389.62L108.48 395.72L102.38 401.82L96.28 395.72Z"/>
<path d="M103.59 379.69L109.69 385.79L103.59 391.89L97.49 385.79Z"/>
<path d="M105.51 366.74L111.61 372.84L105.51 378.94L99.41 372.84Z"/>
<path d="M108.14 352.18L114.24 358.28L108.14 364.38L102.04 358.28Z"/>
<path d="M112.07 334.35L118.17 340.45L112.07 346.55L105.97 340.45Z"/>
<path d="M117.28 314.96L123.38 321.06L117.28 327.16L111.18 321.06Z"/>
<path d="M123.96 294.41L130.06 300.51L123.96 306.61L117.86 300.51Z"/>
<path d="M134.90 267.15L141.00 273.25L134.90 279.35L128.80 273.25Z"/>
<path d="M148.79 239.67L154.89 245.77L148.79 251.87L142.69 245.77Z"/>
<path d="M172.16 204.46L178.26 210.56L172.16 216.66L166.06 210.56Z"/>
<path d="M196.59 177.43L202.69 183.53L196.59 189.63L190.49 183.53Z"/>
<path d="M225.68 154.44L231.78 160.54L225.68 166.64L219.58 160.54Z"/>
<path d="M254.95 139.25L261.05 145.35L254.95 151.45L248.85 145.35Z"/>
<path d="M294.82 129.35L300.92 135.45L294.82 141.55L288.72 135.45Z"/>
<path d="M338.57 131.67L344.67 137.77L338.57 143.87L332.47 137.77Z"/>
<path d="M380.75 147.29L386.85 153.39L380.75 159.49L374.65 153.39Z"/>
<path d="M410.20 167.11L416.30 173.21L410.20 179.31L404.10 173.21Z"/>
<path d="M439.70 196.27L445.80 202.37L439.70 208.47L433.60 202.37Z"/>
<path d="M461.70 226.29L467.80 232.39L461.70 238.49L455.60 232.39Z"/>
<path d="M478.32 255.93L484.42 262.03L478.32 268.13L472.22 262.03Z"/>
<path d="M490.60 283.83L496.70 289.93L490.60 296.03L484.50 289.93Z"/>
<path d="M498.81 307.06L504.91 313.16L498.81 319.26L492.71 313.16Z"/>
<path d="M505.24 329.52L511.34 335.62L505.24 341.72L499.14 335.62Z"/>
<path d="M509.69 348.78L515.79 354.88L509.69 360.98L503.59 354.88Z"/>
<path d="M512.52 363.86L518.62 369.96L512.52 376.06L506.42 369.96Z"/>
<path d="M514.55 376.99L520.65 383.09L514.55 389.19L508.45 383.09Z"/>
<path d="M515.89 387.49L521.99 393.59L515.89 399.69L509.79 393.59Z"/>
<path d="M516.82 396.24L522.92 402.34L516.82 408.44L510.72 402.34Z"/>
<path d="M517.55 404.72L523.65 410.82L517.55 416.92L511.45 410.82Z"/>
<path d="M517.95 410.39L524.05 416.49L517.95 422.59L511.85 416.49Z"/>
<path d="M518.25 415.45L524.35 421.55L518.25 427.65L512.15 421.55Z"/>
<path d="M518.44 419.25L524.54 425.35L518.44 431.45L512.34 425.35Z"/>
<path d="M518.53 421.24L524.63 427.34L518.53 433.44L512.43 427.34Z"/>
<path d="M518.60 423.05L524.70 429.15L518.60 435.25L512.50 429.15Z"/>
<path d="M518.65 424.72L524.75 430.82L518.65 436.92L512.55 430.82Z"/>
<path d="M518.70 426.22L524.80 432.32L518.70 438.42L512.60 432.32Z"/>
<path d="M518.74 427.56L524.84 433.66L518.74 439.76L512.64 433.66Z"/>
<path d="M518.77 428.76L524.87 434.86L518.77 440.96L512.67 434.86Z"/>
<path d="M518.80 429.76L524.90 435.86L518.80 441.96L512.70 435.86Z"/>
<path d="M518.82 430.67L524.92 436.77L518.82 442.87L512.72 436.77Z"/>
<path d="M518.84 431.67L524.94 437.77L518.84 443.87L512.74 437.77Z"/>
<path d="M518.85 432.57L524.95 438.67L518.85 444.77L512.75 438.67Z"/>
<path d="M518.86 433.24L524.96 439.34L518.86 445.44L512.76 439.34Z"/>
<path d="M518.87 433.84L524.97 439.94L518.87 446.04L512.77 439.94Z"/>
<path d="M518.88 434.44L524.98 440.54L518.88 446.64L512.78 440.54Z"/>
<path d="M518.88 434.99L524.98 441.09L518.88 447.19L512.78 441.09Z"/>
<path d="M518.89 435.45L524.99 441.55L518.89 447.65L512.79 441.55Z"/>
<path d="M518.89 435.88L524.99 441.98L518.89 448.08L512.79 441.98Z"/>
<path d="M518.90 436.28L525.00 442.38L518.90 448.48L512.80 442.38Z"/>
<path d="M518.90 436.64L525.00 442.74L518.90 448.84L512.80 442.74Z"/>
<path d="M518.90 436.94L525.00 443.04L518.90 449.14L512.80 443.04Z"/>
<path d="M518.90 437.21L525.00 443.31L518.90 449.41L512.80 443.31Z"/>
<path d="M518.91 437.48L525.01 443.58L518.91 449.68L512.81 443.58Z"/>
<path d="M518.91 437.72L525.01 443.82L518.91 449.92L512.81 443.82Z"/>
<path d="M518.91 437.92L525.01 444.02L518.91 450.12L512.81 444.02Z"/>
<path d="M518.91 438.10L525.01 444.20L518.91 450.30L512.81 444.20Z"/>
<path d="M518.91 438.30L525.01 444.40L518.91 450.50L512.81 444.40Z"/>
<path d="M518.91 438.48L525.01 444.58L518.91 450.68L512.81 444.58Z"/>
<path d="M518.91 438.65L525.01 444.75L518.91 450.85L512.81 444.75Z"/>
<path d="M518.91 438.80L525.01 444.90L518.91 451.00L512.81 444.90Z"/>
<path d="M518.91 438.94L525.01 445.04L518.91 451.14L512.81 445.04Z"/>
<path d="M518.91 439.06L525.01 445.16L518.91 451.26L512.81 445.16Z"/>
<path d="M518.91 439.16L525.01 445.26L518.91 451.36L512.81 445.26Z"/>
<path d="M518.91 439.25L525.01 445.35L518.91 451.45L512.81 445.35Z"/>
<path d="M518.91 439.35L525.01 445.45L518.91 451.55L512.81 445.45Z"/>
<path d="M518.91 439.44L525.01 445.54L518.91 451.64L512.81 445.54Z"/>
<path d="M518.91 439.50L525.01 445.60L518.91 451.70L512.81 445.60Z"/>
<path d="M518.91 439.56L525.01 445.66L518.91 451.76L512.81 445.66Z"/>
</g>
<polyline fill="none" stroke-width="1.35" points="99.60,446.23 99.60,446.22 99.60,446.21 99.60,446.20 99.60,446.19 99.60,446.18 99.60,446.17 99.60,446.16 99.60,446.14 99.60,446.13 99.60,446.11 99.60,446.10 99.60,446.08 99.60,446.06 99.60,446.03 99.60,446.00 99.60,445.97 99.60,445.93 99.60,445.89 99.60,445.86 99.60,445.81 99.60,445.76 99.60,445.69 99.60,445.63 99.60,445.57 99.60,445.49 99.60,445.41 99.60,445.32 99.60,445.23 99.60,445.12 99.60,445.00 99.60,444.88 99.60,444.75 99.60,444.59 99.60,444.43 99.60,444.26 99.60,444.09 99.60,443.85 99.60,443.60 99.60,443.30 99.61,442.98 99.61,442.63 99.61,442.24 99.61,441.86 99.62,441.43 99.62,440.86 99.63,440.21 99.64,439.63 99.64,439.00 99.66,438.24 99.67,437.39 99.68,436.52 99.70,435.56 99.72,434.47 99.75,433.26 99.78,432.07 99.81,430.77 99.86,429.25 99.91,427.59 99.97,425.96 100.04,424.19 100.14,421.86 100.26,419.29 100.59,413.17 101.08,405.85 101.73,397.82 102.92,385.84 104.37,373.96 106.66,358.49 109.80,341.09 114.50,319.76 120.73,296.59 128.72,272.02 141.80,239.44 158.40,206.58 186.34,164.50 215.54,132.18 250.32,104.70 285.31,86.54 332.96,74.71 385.27,77.49 435.69,96.16 470.89,119.85 506.16,154.71 532.45,190.59 552.32,226.02 567.00,259.37 576.81,287.15 584.50,313.99 589.82,337.02 593.21,355.04 595.63,370.74 597.23,383.29 598.34,393.75 599.22,403.89 599.70,410.67 600.05,416.71 600.28,421.25 600.38,423.64 600.47,425.80 600.54,427.79 600.59,429.59 600.64,431.19 600.68,432.63 600.70,433.82 600.73,434.91 600.75,436.11 600.77,437.18 600.78,437.98 600.79,438.70 600.80,439.42 600.81,440.07 600.82,440.63 600.82,441.13 600.83,441.61 600.83,442.05 600.83,442.40 600.83,442.73 600.84,443.05 600.84,443.34 600.84,443.57 600.84,443.79 600.84,444.03 600.84,444.25 600.84,444.45 600.84,444.63 600.84,444.79 600.84,444.93 600.84,445.05 600.84,445.16 600.84,445.28 600.84,445.39 600.84,445.47 600.84,445.54"/>
<g fill="#fff" stroke-width="1.5">
<path stroke-miterlimit="2" d="M99.60 441.28L101.18 444.95L105.16 445.32L102.16 447.96L103.04 451.86L99.60 449.82L96.16 451.86L97.04 447.96L94.03 445.32L98.01 444.95Z"/>
<path stroke-miterlimit="2" d="M99.60 441.27L101.18 444.94L105.16 445.31L102.16 447.95L103.04 451.85L99.60 449.81L96.16 451.85L97.04 447.95L94.03 445.31L98.01 444.94Z"/>
<path stroke-miterlimit="2" d="M99.60 441.26L101.18 444.93L105.16 445.30L102.16 447.94L103.04 451.84L99.60 449.80L96.16 451.84L97.04 447.94L94.03 445.30L98.01 444.93Z"/>
<path stroke-miterlimit="2" d="M99.60 441.25L101.18 444.93L105.16 445.29L102.16 447.93L103.04 451.83L99.60 449.79L96.16 451.83L97.04 447.93L94.03 445.29L98.01 444.93Z"/>
<path stroke-miterlimit="2" d="M99.60 441.24L101.18 444.92L105.16 445.28L102.16 447.92L103.04 451.83L99.60 449.78L96.16 451.83L97.04 447.92L94.03 445.28L98.01 444.92Z"/>
<path stroke-miterlimit="2" d="M99.60 441.23L101.18 444.90L105.16 445.27L102.16 447.91L103.04 451.81L99.60 449.77L96.16 451.81L97.04 447.91L94.03 445.27L98.01 444.90Z"/>
<path stroke-miterlimit="2" d="M99.60 441.22L101.18 444.89L105.16 445.26L102.16 447.90L103.04 451.80L99.60 449.76L96.16 451.80L97.04 447.90L94.03 445.26L98.01 444.89Z"/>
<path stroke-miterlimit="2" d="M99.60 441.21L101.18 444.88L105.16 445.25L102.16 447.89L103.04 451.79L99.60 449.75L96.16 451.79L97.04 447.89L94.03 445.25L98.01 444.88Z"/>
<path stroke-miterlimit="2" d="M99.60 441.19L101.18 444.87L105.16 445.24L102.16 447.88L103.04 451.78L99.60 449.74L96.16 451.78L97.04 447.88L94.03 445.24L98.01 444.87Z"/>
<path stroke-miterlimit="2" d="M99.60 441.18L101.18 444.85L105.16 445.22L102.16 447.86L103.04 451.76L99.60 449.72L96.16 451.76L97.04 447.86L94.03 445.22L98.01 444.85Z"/>
<path stroke-miterlimit="2" d="M99.60 441.16L101.18 444.84L105.16 445.20L102.16 447.84L103.04 451.75L99.60 449.70L96.16 451.75L97.04 447.84L94.03 445.20L98.01 444.84Z"/>
<path stroke-miterlimit="2" d="M99.60 441.15L101.18 444.82L105.16 445.19L102.16 447.83L103.04 451.73L99.60 449.69L96.16 451.73L97.04 447.83L94.03 445.19L98.01 444.82Z"/>
<path stroke-miterlimit="2" d="M99.60 441.13L101.18 444.80L105.16 445.17L102.16 447.81L103.04 451.71L99.60 449.67L96.16 451.71L97.04 447.81L94.03 445.17L98.01 444.80Z"/>
<path stroke-miterlimit="2" d="M99.60 441.11L101.18 444.78L105.16 445.15L102.16 447.79L103.04 451.69L99.60 449.65L96.16 451.69L97.04 447.79L94.03 445.15L98.01 444.78Z"/>
<path stroke-miterlimit="2" d="M99.60 441.08L101.18 444.75L105.16 445.12L102.16 447.76L103.04 451.66L99.60 449.62L96.16 451.66L97.04 447.76L94.03 445.12L98.01 444.75Z"/>
<path stroke-miterlimit="2" d="M99.60 441.05L101.18 444.72L105.16 445.09L102.16 447.73L103.04 451.63L99.60 449.59L96.16 451.63L97.04 447.73L94.03 445.09L98.01 444.72Z"/>
<path stroke-miterlimit="2" d="M99.60 441.02L101.18 444.69L105.16 445.06L102.16 447.70L103.04 451.60L99.60 449.56L96.16 451.60L97.04 447.70L94.03 445.06L98.01 444.69Z"/>
<path stroke-miterlimit="2" d="M99.60 440.98L101.18 444.66L105.16 445.03L102.16 447.66L103.04 451.57L99.60 449.52L96.16 451.57L97.04 447.66L94.03 445.03L98.01 444.66Z"/>
<path stroke-miterlimit="2" d="M99.60 440.94L101.18 444.62L105.16 444.99L102.16 447.63L103.04 451.53L99.60 449.49L96.16 451.53L97.04 447.63L94.03 444.99L98.01 444.62Z"/>
<path stroke-miterlimit="2" d="M99.60 440.91L101.18 444.58L105.16 444.95L102.16 447.59L103.04 451.49L99.60 449.45L96.16 451.49L97.04 447.59L94.03 444.95L98.02 444.58Z"/>
<path stroke-miterlimit="2" d="M99.60 440.86L101.18 444.54L105.16 444.91L102.16 447.54L103.04 451.45L99.60 449.40L96.16 451.45L97.04 447.54L94.03 444.91L98.02 444.54Z"/>
<path stroke-miterlimit="2" d="M99.60 440.81L101.18 444.48L105.16 444.85L102.16 447.49L103.04 451.39L99.60 449.35L96.16 451.39L97.04 447.49L94.03 444.85L98.02 444.48Z"/>
<path stroke-miterlimit="2" d="M99.60 440.74L101.18 444.41L105.16 444.78L102.16 447.42L103.04 451.32L99.60 449.28L96.16 451.32L97.04 447.42L94.03 444.78L98.02 444.41Z"/>
<path stroke-miterlimit="2" d="M99.60 440.68L101.18 444.36L105.16 444.73L102.16 447.36L103.04 451.27L99.60 449.22L96.16 451.27L97.04 447.36L94.03 444.73L98.02 444.36Z"/>
<path stroke-miterlimit="2" d="M99.60 440.62L101.18 444.29L105.16 444.66L102.16 447.30L103.04 451.20L99.60 449.16L96.16 451.20L97.04 447.30L94.03 444.66L98.02 444.29Z"/>
<path stroke-miterlimit="2" d="M99.60 440.54L101.18 444.22L105.16 444.59L102.16 447.23L103.04 451.13L99.60 449.08L96.16 451.13L97.04 447.23L94.03 444.59L98.02 444.22Z"/>
<path stroke-miterlimit="2" d="M99.60 440.46L101.18 444.13L105.16 444.50L102.16 447.14L103.04 451.04L99.60 449.00L96.16 451.04L97.04 447.14L94.03 444.50L98.02 444.13Z"/>
<path stroke-miterlimit="2" d="M99.60 440.37L101.18 444.04L105.16 444.41L102.16 447.05L103.04 450.95L99.60 448.91L96.16 450.95L97.04 447.05L94.03 444.41L98.02 444.04Z"/>
<path stroke-miterlimit="2" d="M99.60 440.28L101.18 443.95L105.16 444.32L102.16 446.96L103.04 450.86L99.60 448.82L96.16 450.86L97.04 446.96L94.03 444.32L98.02 443.95Z"/>
<path stroke-miterlimit="2" d="M99.60 440.17L101.18 443.84L105.16 444.21L102.16 446.85L103.04 450.75L99.60 448.71L96.16 450.75L97.04 446.85L94.03 444.21L98.02 443.84Z"/>
<path stroke-miterlimit="2" d="M99.60 440.05L101.18 443.72L105.16 444.09L102.16 446.73L103.04 450.63L99.60 448.59L96.16 450.63L97.04 446.73L94.03 444.09L98.02 443.72Z"/>
<path stroke-miterlimit="2" d="M99.60 439.93L101.18 443.60L105.16 443.97L102.16 446.61L103.04 450.51L99.60 448.47L96.16 450.51L97.04 446.61L94.03 443.97L98.02 443.60Z"/>
<path stroke-miterlimit="2" d="M99.60 439.80L101.18 443.47L105.16 443.84L102.16 446.48L103.04 450.38L99.60 448.34L96.16 450.38L97.04 446.48L94.04 443.84L98.02 443.47Z"/>
<path stroke-miterlimit="2" d="M99.60 439.64L101.18 443.32L105.16 443.69L102.16 446.33L103.04 450.23L99.60 448.19L96.16 450.23L97.04 446.33L94.04 443.69L98.02 443.32Z"/>
<path stroke-miterlimit="2" d="M99.60 439.48L101.18 443.15L105.16 443.52L102.16 446.16L103.04 450.06L99.60 448.02L96.16 450.06L97.04 446.16L94.04 443.52L98.02 443.15Z"/>
<path stroke-miterlimit="2" d="M99.60 439.31L101.18 442.99L105.16 443.36L102.16 446.00L103.04 449.90L99.60 447.86L96.16 449.90L97.04 446.00L94.04 443.36L98.02 442.99Z"/>
<path stroke-miterlimit="2" d="M99.60 439.14L101.18 442.81L105.16 443.18L102.16 445.82L103.04 449.72L99.60 447.68L96.16 449.72L97.04 445.82L94.04 443.18L98.02 442.81Z"/>
<path stroke-miterlimit="2" d="M99.60 438.90L101.18 442.58L105.17 442.95L102.16 445.58L103.04 449.49L99.60 447.44L96.16 449.49L97.04 445.58L94.04 442.95L98.02 442.58Z"/>
<path stroke-miterlimit="2" d="M99.60 438.65L101.18 442.32L105.17 442.69L102.16 445.33L103.04 449.23L99.60 447.19L96.16 449.23L97.04 445.33L94.04 442.69L98.02 442.32Z"/>
<path stroke-miterlimit="2" d="M99.60 438.35L101.19 442.03L105.17 442.40L102.16 445.04L103.04 448.94L99.60 446.89L96.17 448.94L97.05 445.04L94.04 442.40L98.02 442.03Z"/>
<path stroke-miterlimit="2" d="M99.61 438.03L101.19 441.70L105.17 442.07L102.17 444.71L103.05 448.61L99.61 446.57L96.17 448.61L97.05 444.71L94.04 442.07L98.02 441.70Z"/>
<path stroke-miterlimit="2" d="M99.61 437.68L101.19 441.35L105.17 441.72L102.17 444.36L103.05 448.26L99.61 446.22L96.17 448.26L97.05 444.36L94.05 441.72L98.03 441.35Z"/>
<path stroke-miterlimit="2" d="M99.61 437.29L101.19 440.97L105.18 441.33L102.17 443.97L103.05 447.88L99.61 445.83L96.17 447.88L97.05 443.97L94.05 441.33L98.03 440.97Z"/>
<path stroke-miterlimit="2" d="M99.61 436.91L101.20 440.58L105.18 440.95L102.17 443.59L103.05 447.49L99.61 445.45L96.18 447.49L97.06 443.59L94.05 440.95L98.03 440.58Z"/>
<path stroke-miterlimit="2" d="M99.62 436.48L101.20 440.15L105.18 440.52L102.18 443.16L103.06 447.06L99.62 445.02L96.18 447.06L97.06 443.16L94.05 440.52L98.04 440.15Z"/>
<path stroke-miterlimit="2" d="M99.62 435.91L101.21 439.58L105.19 439.95L102.18 442.59L103.06 446.49L99.62 444.45L96.18 446.49L97.06 442.59L94.06 439.95L98.04 439.58Z"/>
<path stroke-miterlimit="2" d="M99.63 435.26L101.21 438.94L105.19 439.31L102.19 441.95L103.07 445.85L99.63 443.81L96.19 445.85L97.07 441.95L94.07 439.31L98.05 438.94Z"/>
<path stroke-miterlimit="2" d="M99.64 434.68L101.22 438.36L105.20 438.73L102.20 441.37L103.08 445.27L99.64 443.22L96.20 445.27L97.08 441.37L94.07 438.73L98.05 438.36Z"/>
<path stroke-miterlimit="2" d="M99.64 434.05L101.23 437.72L105.21 438.09L102.20 440.73L103.08 444.63L99.64 442.59L96.21 444.63L97.09 440.73L94.08 438.09L98.06 437.72Z"/>
<path stroke-miterlimit="2" d="M99.66 433.29L101.24 436.96L105.22 437.33L102.21 439.97L103.09 443.87L99.66 441.83L96.22 443.87L97.10 439.97L94.09 437.33L98.07 436.96Z"/>
<path stroke-miterlimit="2" d="M99.67 432.44L101.25 436.12L105.23 436.49L102.23 439.13L103.11 443.03L99.67 440.99L96.23 443.03L97.11 439.13L94.10 436.49L98.09 436.12Z"/>
<path stroke-miterlimit="2" d="M99.68 431.57L101.26 435.24L105.25 435.61L102.24 438.25L103.12 442.15L99.68 440.11L96.24 442.15L97.12 438.25L94.12 435.61L98.10 435.24Z"/>
<path stroke-miterlimit="2" d="M99.70 430.61L101.28 434.28L105.26 434.65L102.26 437.29L103.14 441.19L99.70 439.15L96.26 441.19L97.14 437.29L94.14 434.65L98.12 434.28Z"/>
<path stroke-miterlimit="2" d="M99.72 429.52L101.30 433.19L105.29 433.56L102.28 436.20L103.16 440.10L99.72 438.06L96.28 440.10L97.16 436.20L94.16 433.56L98.14 433.19Z"/>
<path stroke-miterlimit="2" d="M99.75 428.31L101.33 431.99L105.31 432.35L102.31 434.99L103.19 438.90L99.75 436.85L96.31 438.90L97.19 434.99L94.19 432.35L98.17 431.99Z"/>
<path stroke-miterlimit="2" d="M99.78 427.12L101.36 430.79L105.34 431.16L102.34 433.80L103.22 437.70L99.78 435.66L96.34 437.70L97.22 433.80L94.22 431.16L98.20 430.79Z"/>
<path stroke-miterlimit="2" d="M99.81 425.82L101.40 429.49L105.38 429.86L102.37 432.50L103.25 436.40L99.81 434.36L96.38 436.40L97.26 432.50L94.25 429.86L98.23 429.49Z"/>
<path stroke-miterlimit="2" d="M99.86 424.30L101.44 427.97L105.42 428.34L102.42 430.98L103.30 434.88L99.86 432.84L96.42 434.88L97.30 430.98L94.30 428.34L98.28 427.97Z"/>
<path stroke-miterlimit="2" d="M99.91 422.64L101.49 426.31L105.48 426.68L102.47 429.32L103.35 433.22L99.91 431.18L96.47 433.22L97.35 429.32L94.35 426.68L98.33 426.31Z"/>
<path stroke-miterlimit="2" d="M99.97 421.01L101.55 424.68L105.53 425.05L102.53 427.69L103.41 431.59L99.97 429.55L96.53 431.59L97.41 427.69L94.41 425.05L98.39 424.68Z"/>
<path stroke-miterlimit="2" d="M100.04 419.24L101.62 422.91L105.60 423.28L102.60 425.92L103.48 429.82L100.04 427.78L96.60 429.82L97.48 425.92L94.47 423.28L98.46 422.91Z"/>
<path stroke-miterlimit="2" d="M100.14 416.91L101.72 420.58L105.70 420.95L102.70 423.59L103.58 427.49L100.14 425.45L96.70 427.49L97.58 423.59L94.57 420.95L98.55 420.58Z"/>
<path stroke-miterlimit="2" d="M100.26 414.34L101.84 418.01L105.82 418.38L102.82 421.02L103.70 424.92L100.26 422.88L96.82 424.92L97.70 421.02L94.69 418.38L98.67 418.01Z"/>
<path stroke-miterlimit="2" d="M100.59 408.22L102.17 411.89L106.15 412.26L103.15 414.90L104.03 418.80L100.59 416.76L97.15 418.80L98.03 414.90L95.03 412.26L99.01 411.89Z"/>
<path stroke-miterlimit="2" d="M101.08 400.90L102.66 404.57L106.64 404.94L103.64 407.58L104.52 411.48L101.08 409.44L97.64 411.48L98.52 407.58L95.52 404.94L99.50 404.57Z"/>
<path stroke-miterlimit="2" d="M101.73 392.87L103.31 396.54L107.29 396.91L104.29 399.55L105.17 403.45L101.73 401.41L98.29 403.45L99.17 399.55L96.17 396.91L100.15 396.54Z"/>
<path stroke-miterlimit="2" d="M102.92 380.89L104.50 384.57L108.48 384.93L105.48 387.57L106.36 391.48L102.92 389.43L99.48 391.48L100.36 387.57L97.36 384.93L101.34 384.57Z"/>
<path stroke-miterlimit="2" d="M104.37 369.01L105.95 372.69L109.93 373.05L106.93 375.69L107.81 379.59L104.37 377.55L100.93 379.59L101.81 375.69L98.80 373.05L102.79 372.69Z"/>
<path stroke-miterlimit="2" d="M106.66 353.54L108.24 357.21L112.22 357.58L109.22 360.22L110.10 364.12L106.66 362.08L103.22 364.12L104.10 360.22L101.10 357.58L105.08 357.21Z"/>
<path stroke-miterlimit="2" d="M109.80 336.14L111.39 339.81L115.37 340.18L112.36 342.82L113.24 346.72L109.80 344.68L106.37 346.72L107.24 342.82L104.24 340.18L108.22 339.81Z"/>
<path stroke-miterlimit="2" d="M114.50 314.81L116.08 318.48L120.07 318.85L117.06 321.49L117.94 325.39L114.50 323.35L111.06 325.39L111.94 321.49L108.94 318.85L112.92 318.48Z"/>
<path stroke-miterlimit="2" d="M120.73 291.64L122.31 295.31L126.30 295.68L123.29 298.32L124.17 302.22L120.73 300.18L117.29 302.22L118.17 298.32L115.17 295.68L119.15 295.31Z"/>
<path stroke-miterlimit="2" d="M128.72 267.07L130.31 270.74L134.29 271.11L131.28 273.75L132.16 277.65L128.72 275.61L125.29 277.65L126.16 273.75L123.16 271.11L127.14 270.74Z"/>
<path stroke-miterlimit="2" d="M141.80 234.49L143.38 238.17L147.36 238.53L144.36 241.17L145.24 245.08L141.80 243.03L138.36 245.08L139.24 241.17L136.24 238.53L140.22 238.17Z"/>
<path stroke-miterlimit="2" d="M158.40 201.63L159.98 205.31L163.96 205.67L160.96 208.31L161.84 212.21L158.40 210.17L154.96 212.21L155.84 208.31L152.84 205.67L156.82 205.31Z"/>
<path stroke-miterlimit="2" d="M186.34 159.55L187.92 163.22L191.90 163.59L188.90 166.23L189.78 170.13L186.34 168.09L182.90 170.13L183.78 166.23L180.78 163.59L184.76 163.22Z"/>
<path stroke-miterlimit="2" d="M215.54 127.23L217.12 130.91L221.10 131.28L218.10 133.92L218.98 137.82L215.54 135.78L212.10 137.82L212.98 133.92L209.97 131.28L213.96 130.91Z"/>
<path stroke-miterlimit="2" d="M250.32 99.75L251.90 103.42L255.88 103.79L252.88 106.43L253.76 110.33L250.32 108.29L246.88 110.33L247.76 106.43L244.76 103.79L248.74 103.42Z"/>
<path stroke-miterlimit="2" d="M285.31 81.59L286.89 85.26L290.87 85.63L287.86 88.27L288.74 92.17L285.31 90.13L281.87 92.17L282.75 88.27L279.74 85.63L283.72 85.26Z"/>
<path stroke-miterlimit="2" d="M332.96 69.76L334.55 73.44L338.53 73.81L335.52 76.45L336.40 80.35L332.96 78.31L329.53 80.35L330.40 76.45L327.40 73.81L331.38 73.44Z"/>
<path stroke-miterlimit="2" d="M385.27 72.54L386.85 76.21L390.83 76.58L387.83 79.22L388.71 83.12L385.27 81.08L381.83 83.12L382.71 79.22L379.70 76.58L383.69 76.21Z"/>
<path stroke-miterlimit="2" d="M435.69 91.21L437.27 94.88L441.25 95.25L438.25 97.89L439.13 101.79L435.69 99.75L432.25 101.79L433.13 97.89L430.13 95.25L434.11 94.88Z"/>
<path stroke-miterlimit="2" d="M470.89 114.90L472.48 118.57L476.46 118.94L473.45 121.58L474.33 125.48L470.89 123.44L467.46 125.48L468.34 121.58L465.33 118.94L469.31 118.57Z"/>
<path stroke-miterlimit="2" d="M506.16 149.76L507.74 153.43L511.72 153.80L508.72 156.44L509.59 160.34L506.16 158.30L502.72 160.34L503.60 156.44L500.59 153.80L504.57 153.43Z"/>
<path stroke-miterlimit="2" d="M532.45 185.64L534.03 189.31L538.02 189.68L535.01 192.32L535.89 196.22L532.45 194.18L529.01 196.22L529.89 192.32L526.89 189.68L530.87 189.31Z"/>
<path stroke-miterlimit="2" d="M552.32 221.07L553.90 224.74L557.88 225.11L554.88 227.75L555.76 231.65L552.32 229.61L548.88 231.65L549.76 227.75L546.75 225.11L550.74 224.74Z"/>
<path stroke-miterlimit="2" d="M567.00 254.42L568.58 258.10L572.56 258.47L569.56 261.10L570.44 265.01L567.00 262.96L563.56 265.01L564.44 261.10L561.43 258.47L565.42 258.10Z"/>
<path stroke-miterlimit="2" d="M576.81 282.20L578.40 285.87L582.38 286.24L579.37 288.88L580.25 292.78L576.81 290.74L573.38 292.78L574.26 288.88L571.25 286.24L575.23 285.87Z"/>
<path stroke-miterlimit="2" d="M584.50 309.04L586.08 312.71L590.06 313.08L587.06 315.72L587.94 319.62L584.50 317.58L581.06 319.62L581.94 315.72L578.94 313.08L582.92 312.71Z"/>
<path stroke-miterlimit="2" d="M589.82 332.07L591.40 335.74L595.38 336.11L592.37 338.75L593.25 342.65L589.82 340.61L586.38 342.65L587.26 338.75L584.25 336.11L588.23 335.74Z"/>
<path stroke-miterlimit="2" d="M593.21 350.09L594.79 353.76L598.77 354.13L595.77 356.77L596.64 360.67L593.21 358.63L589.77 360.67L590.65 356.77L587.64 354.13L591.62 353.76Z"/>
<path stroke-miterlimit="2" d="M595.63 365.79L597.22 369.46L601.20 369.83L598.19 372.47L599.07 376.37L595.63 374.33L592.20 376.37L593.07 372.47L590.07 369.83L594.05 369.46Z"/>
<path stroke-miterlimit="2" d="M597.23 378.34L598.81 382.01L602.80 382.38L599.79 385.02L600.67 388.92L597.23 386.88L593.79 388.92L594.67 385.02L591.67 382.38L595.65 382.01Z"/>
<path stroke-miterlimit="2" d="M598.34 388.80L599.92 392.47L603.90 392.84L600.90 395.48L601.78 399.38L598.34 397.34L594.90 399.38L595.78 395.48L592.77 392.84L596.76 392.47Z"/>
<path stroke-miterlimit="2" d="M599.22 398.94L600.80 402.61L604.78 402.98L601.77 405.62L602.65 409.52L599.22 407.48L595.78 409.52L596.66 405.62L593.65 402.98L597.63 402.61Z"/>
<path stroke-miterlimit="2" d="M599.70 405.72L601.28 409.39L605.26 409.76L602.26 412.40L603.13 416.30L599.70 414.26L596.26 416.30L597.14 412.40L594.13 409.76L598.11 409.39Z"/>
<path stroke-miterlimit="2" d="M600.05 411.76L601.64 415.44L605.62 415.81L602.61 418.44L603.49 422.35L600.05 420.30L596.61 422.35L597.49 418.44L594.49 415.81L598.47 415.44Z"/>
<path stroke-miterlimit="2" d="M600.28 416.30L601.86 419.98L605.84 420.35L602.84 422.99L603.72 426.89L600.28 424.84L596.84 426.89L597.72 422.99L594.71 420.35L598.70 419.98Z"/>
<path stroke-miterlimit="2" d="M600.38 418.69L601.96 422.36L605.94 422.73L602.94 425.37L603.82 429.27L600.38 427.23L596.94 429.27L597.82 425.37L594.82 422.73L598.80 422.36Z"/>
<path stroke-miterlimit="2" d="M600.47 420.85L602.05 424.52L606.03 424.89L603.02 427.53L603.90 431.43L600.47 429.39L597.03 431.43L597.91 427.53L594.90 424.89L598.88 424.52Z"/>
<path stroke-miterlimit="2" d="M600.54 422.84L602.12 426.52L606.10 426.88L603.09 429.52L603.97 433.43L600.54 431.38L597.10 433.43L597.98 429.52L594.97 426.88L598.95 426.52Z"/>
<path stroke-miterlimit="2" d="M600.59 424.64L602.17 428.31L606.16 428.68L603.15 431.32L604.03 435.22L600.59 433.18L597.15 435.22L598.03 431.32L595.03 428.68L599.01 428.31Z"/>
<path stroke-miterlimit="2" d="M600.64 426.24L602.22 429.91L606.20 430.28L603.20 432.92L604.08 436.82L600.64 434.78L597.20 436.82L598.08 432.92L595.08 430.28L599.06 429.91Z"/>
<path stroke-miterlimit="2" d="M600.68 427.68L602.26 431.35L606.24 431.72L603.24 434.36L604.11 438.26L600.68 436.22L597.24 438.26L598.12 434.36L595.11 431.72L599.09 431.35Z"/>
<path stroke-miterlimit="2" d="M600.70 428.87L602.29 432.54L606.27 432.91L603.26 435.55L604.14 439.45L600.70 437.41L597.27 439.45L598.15 435.55L595.14 432.91L599.12 432.54Z"/>
<path stroke-miterlimit="2" d="M600.73 429.96L602.31 433.63L606.29 434.00L603.29 436.64L604.17 440.54L600.73 438.50L597.29 440.54L598.17 436.64L595.16 434.00L599.15 433.63Z"/>
<path stroke-miterlimit="2" d="M600.75 431.16L602.33 434.83L606.32 435.20L603.31 437.84L604.19 441.74L600.75 439.70L597.31 441.74L598.19 437.84L595.19 435.20L599.17 434.83Z"/>
<path stroke-miterlimit="2" d="M600.77 432.23L602.35 435.91L606.33 436.28L603.33 438.91L604.21 442.82L600.77 440.77L597.33 442.82L598.21 438.91L595.21 436.28L599.19 435.91Z"/>
<path stroke-miterlimit="2" d="M600.78 433.03L602.36 436.70L606.35 437.07L603.34 439.71L604.22 443.61L600.78 441.57L597.34 443.61L598.22 439.71L595.22 437.07L599.20 436.70Z"/>
<path stroke-miterlimit="2" d="M600.79 433.75L602.37 437.43L606.36 437.79L603.35 440.43L604.23 444.34L600.79 442.29L597.35 444.34L598.23 440.43L595.23 437.79L599.21 437.43Z"/>
<path stroke-miterlimit="2" d="M600.80 434.47L602.38 438.14L606.37 438.51L603.36 441.15L604.24 445.05L600.80 443.01L597.36 445.05L598.24 441.15L595.24 438.51L599.22 438.14Z"/>
<path stroke-miterlimit="2" d="M600.81 435.12L602.39 438.79L606.37 439.16L603.37 441.80L604.25 445.70L600.81 443.66L597.37 445.70L598.25 441.80L595.25 439.16L599.23 438.79Z"/>
<path stroke-miterlimit="2" d="M600.82 435.68L602.40 439.35L606.38 439.72L603.38 442.36L604.25 446.26L600.82 444.22L597.38 446.26L598.26 442.36L595.25 439.72L599.23 439.35Z"/>
<path stroke-miterlimit="2" d="M600.82 436.18L602.40 439.86L606.38 440.23L603.38 442.86L604.26 446.77L600.82 444.72L597.38 446.77L598.26 442.86L595.26 440.23L599.24 439.86Z"/>
<path stroke-miterlimit="2" d="M600.83 436.66L602.41 440.33L606.39 440.70L603.38 443.34L604.26 447.24L600.83 445.20L597.39 447.24L598.27 443.34L595.26 440.70L599.24 440.33Z"/>
<path stroke-miterlimit="2" d="M600.83 437.10L602.41 440.77L606.39 441.14L603.39 443.78L604.27 447.68L600.83 445.64L597.39 447.68L598.27 443.78L595.27 441.14L599.25 440.77Z"/>
<path stroke-miterlimit="2" d="M600.83 437.45L602.41 441.12L606.40 441.49L603.39 444.13L604.27 448.03L600.83 445.99L597.39 448.03L598.27 444.13L595.27 441.49L599.25 441.12Z"/>
<path stroke-miterlimit="2" d="M600.83 437.78L602.42 441.45L606.40 441.82L603.39 444.46L604.27 448.36L600.83 446.32L597.40 448.36L598.27 444.46L595.27 441.82L599.25 441.45Z"/>
<path stroke-miterlimit="2" d="M600.84 438.10L602.42 441.77L606.40 442.14L603.39 444.78L604.27 448.68L600.84 446.64L597.40 448.68L598.28 444.78L595.27 442.14L599.25 441.77Z"/>
<path stroke-miterlimit="2" d="M600.84 438.39L602.42 442.06L606.40 442.43L603.40 445.07L604.28 448.97L600.84 446.93L597.40 448.97L598.28 445.07L595.27 442.43L599.26 442.06Z"/>
<path stroke-miterlimit="2" d="M600.84 438.62L602.42 442.30L606.40 442.67L603.40 445.31L604.28 449.21L600.84 447.17L597.40 449.21L598.28 445.31L595.27 442.67L599.26 442.30Z"/>
<path stroke-miterlimit="2" d="M600.84 438.84L602.42 442.52L606.40 442.88L603.40 445.52L604.28 449.43L600.84 447.38L597.40 449.43L598.28 445.52L595.28 442.88L599.26 442.52Z"/>
<path stroke-miterlimit="2" d="M600.84 439.08L602.42 442.75L606.40 443.12L603.40 445.76L604.28 449.66L600.84 447.62L597.40 449.66L598.28 445.76L595.28 443.12L599.26 442.75Z"/>
<path stroke-miterlimit="2" d="M600.84 439.30L602.42 442.97L606.41 443.34L603.40 445.98L604.28 449.88L600.84 447.84L597.40 449.88L598.28 445.98L595.28 443.34L599.26 442.97Z"/>
<path stroke-miterlimit="2" d="M600.84 439.50L602.42 443.17L606.41 443.54L603.40 446.18L604.28 450.08L600.84 448.04L597.40 450.08L598.28 446.18L595.28 443.54L599.26 443.17Z"/>
<path stroke-miterlimit="2" d="M600.84 439.68L602.42 443.35L606.41 443.72L603.40 446.36L604.28 450.26L600.84 448.22L597.40 450.26L598.28 446.36L595.28 443.72L599.26 443.35Z"/>
<path stroke-miterlimit="2" d="M600.84 439.84L602.42 443.51L606.41 443.88L603.40 446.52L604.28 450.42L600.84 448.38L597.40 450.42L598.28 446.52L595.28 443.88L599.26 443.51Z"/>
<path stroke-miterlimit="2" d="M600.84 439.98L602.43 443.66L606.41 444.02L603.40 446.66L604.28 450.57L600.84 448.52L597.40 450.57L598.28 446.66L595.28 444.02L599.26 443.66Z"/>
<path stroke-miterlimit="2" d="M600.84 440.10L602.43 443.77L606.41 444.14L603.40 446.78L604.28 450.68L600.84 448.64L597.41 450.68L598.28 446.78L595.28 444.14L599.26 443.77Z"/>
<path stroke-miterlimit="2" d="M600.84 440.21L602.43 443.88L606.41 444.25L603.40 446.89L604.28 450.79L600.84 448.75L597.41 450.79L598.28 446.89L595.28 444.25L599.26 443.88Z"/>
<path stroke-miterlimit="2" d="M600.84 440.33L602.43 444.00L606.41 444.37L603.40 447.01L604.28 450.91L600.84 448.87L597.41 450.91L598.28 447.01L595.28 444.37L599.26 444.00Z"/>
<path stroke-miterlimit="2" d="M600.84 440.44L602.43 444.11L606.41 444.48L603.40 447.12L604.28 451.02L600.84 448.98L597.41 451.02L598.29 447.12L595.28 444.48L599.26 444.11Z"/>
<path stroke-miterlimit="2" d="M600.84 440.52L602.43 444.19L606.41 444.56L603.40 447.20L604.28 451.10L600.84 449.06L597.41 451.10L598.29 447.20L595.28 444.56L599.26 444.19Z"/>
<path stroke-miterlimit="2" d="M600.84 440.59L602.43 444.26L606.41 444.63L603.40 447.27L604.28 451.17L600.84 449.13L597.41 451.17L598.29 447.27L595.28 444.63L599.26 444.26Z"/>
</g>
</g>
<rect x="98.2" y="13.9" width="581.90" height="432.40" fill="none" stroke="#000" stroke-width="1.6"/>
<path d="M98.20 446.3V438.50M156.39 446.3V442.40M214.58 446.3V438.50M272.77 446.3V442.40M330.96 446.3V438.50M389.15 446.3V442.40M447.34 446.3V438.50M505.53 446.3V442.40M563.72 446.3V438.50M621.91 446.3V442.40M680.10 446.3V438.50M98.2 446.30H107.20M98.2 403.06H103.50M98.2 359.82H107.20M98.2 316.58H103.50M98.2 273.34H107.20M98.2 230.10H103.50M98.2 186.86H107.20M98.2 143.62H103.50M98.2 100.38H107.20M98.2 57.14H103.50M98.2 13.90H107.20" stroke="#000" stroke-width="1.3" fill="none"/>
<g font-size="21.9" text-anchor="middle">
<text x="98.20" y="472.5">0</text>
<text x="214.58" y="472.5">100</text>
<text x="330.96" y="472.5">200</text>
<text x="447.34" y="472.5">300</text>
<text x="563.72" y="472.5">400</text>
<text x="680.10" y="472.5">500</text>
</g>
<g font-size="21.9" text-anchor="end">
<text x="88.8" y="452.30">0</text>
<text x="88.8" y="365.82">50</text>
<text x="88.8" y="279.34">100</text>
<text x="88.8" y="192.86">150</text>
<text x="88.8" y="106.38">200</text>
<text x="88.8" y="19.90">250</text>
</g>
<text x="336" y="505.9" font-size="21.5"><tspan font-style="italic">Z</tspan><tspan class="s" font-size="12.8" dy="8.6">Re</tspan><tspan dy="-8.6 0 0 0 1.1 -1.1 0" dx="0 0.7 0 0.7 -1 -1.4 0"> / Ω·cm</tspan><tspan class="s" font-size="12.8" dy="-12.5" dx="1.6">2</tspan></text>
<text transform="translate(26.6,298.6) rotate(-90)" font-size="21.5">-<tspan font-style="italic">Z</tspan><tspan class="s" font-size="13" dy="9.4">Im</tspan><tspan dy="-9.4 0 0 0 3 -3 0" dx="0 1.25 0 1.75 -1.4 -2.3 0.7"> / Ω·cm</tspan><tspan class="s" font-size="10.8" dy="-14.1" dx="1.5">2</tspan></text>
<g stroke="#000">
<path d="M526.3 39.2H577.7" stroke-width="1.45" fill="none"/>
<g fill="#fff" stroke-width="1.5"><circle cx="552.60" cy="39.20" r="4.5"/></g>
<path d="M526.3 71.1H577.7" stroke-width="1.45" fill="none"/>
<g fill="#fff" stroke-width="1.5"><path d="M552.60 65.00L558.70 71.10L552.60 77.20L546.50 71.10Z"/></g>
<path d="M526.3 103.0H577.7" stroke-width="1.45" fill="none"/>
<g fill="#fff" stroke-width="1.5"><path d="M552.60 96.65L558.10 106.18L547.10 106.18Z"/></g>
<path d="M526.3 134.9H577.7" stroke-width="1.45" fill="none"/>
<g fill="#fff" stroke-width="1.5"><path d="M552.60 128.80L558.70 134.90L552.60 141.00L546.50 134.90Z"/></g>
<path d="M526.3 166.4H577.7" stroke-width="1.45" fill="none"/>
<g fill="#fff" stroke-width="1.5"><path stroke-miterlimit="2" d="M552.60 161.45L554.18 165.12L558.16 165.49L555.16 168.13L556.04 172.03L552.60 169.99L549.16 172.03L550.04 168.13L547.04 165.49L551.02 165.12Z"/></g>
</g>
<text x="583.9" y="47.50" font-size="21.7">0 <tspan dx="0.8">mg</tspan><tspan dy="1.7" dx="0.2">·</tspan><tspan dy="-1.7" dx="-1">L</tspan><tspan class="s" font-size="12.5" dy="-13" dx="-0.5">-1</tspan></text>
<text x="583.9" y="79.40" font-size="21.7">2 <tspan dx="0.8">mg</tspan><tspan dy="1.7" dx="0.2">·</tspan><tspan dy="-1.7" dx="-1">L</tspan><tspan class="s" font-size="12.5" dy="-13" dx="-0.5">-1</tspan></text>
<text x="583.9" y="111.30" font-size="21.7">4 <tspan dx="0.8">mg</tspan><tspan dy="1.7" dx="0.2">·</tspan><tspan dy="-1.7" dx="-1">L</tspan><tspan class="s" font-size="12.5" dy="-13" dx="-0.5">-1</tspan></text>
<text x="583.9" y="143.20" font-size="21.7">8 <tspan dx="0.8">mg</tspan><tspan dy="1.7" dx="0.2">·</tspan><tspan dy="-1.7" dx="-1">L</tspan><tspan class="s" font-size="12.5" dy="-13" dx="-0.5">-1</tspan></text>
<text x="583.9" y="174.70" font-size="21.7">16 <tspan dx="0.8">mg</tspan><tspan dy="1.7" dx="0.2">·</tspan><tspan dy="-1.7" dx="-1">L</tspan><tspan class="s" font-size="12.5" dy="-13" dx="-0.5">-1</tspan></text>
</svg></body></html>
